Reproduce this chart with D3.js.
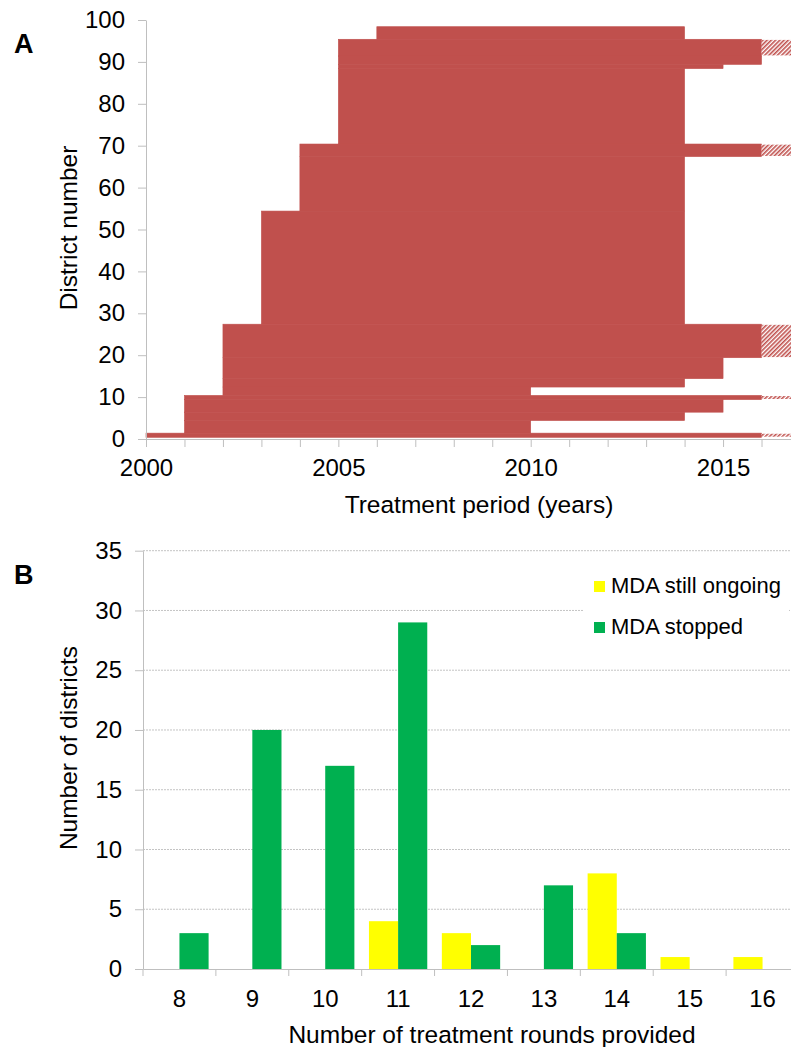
<!DOCTYPE html>
<html>
<head>
<meta charset="utf-8">
<script src="https://cdn.jsdelivr.net/npm/d3@7"></script>
<style>
  body { margin: 0; background: #fff; }
  svg { display: block; font-family: "Liberation Sans", Arial, sans-serif; }
</style>
</head>
<body>
<svg id="chart" width="791" height="1047"></svg>
<script>
// panel A: districts grouped by identical treatment period
var group_first   = [1, 2, 5, 7, 10, 11, 13, 15, 20, 28, 55, 68, 71, 89, 90, 92, 96];
var group_last    = [1, 4, 6, 9, 10, 12, 14, 19, 27, 54, 67, 70, 88, 89, 91, 95, 98];
var start_year    = [2000, 2001, 2001, 2001, 2001, 2002, 2002, 2002, 2002, 2003, 2004, 2004, 2005, 2005, 2005, 2005, 2006];
var end_year      = [2016, 2010, 2014, 2015, 2016, 2010, 2014, 2015, 2016, 2014, 2014, 2016, 2014, 2015, 2016, 2016, 2014];
var still_ongoing = [true, false, false, false, true, false, false, false, true, false, false, true, false, false, false, true, false];

var year_ticks = [2000, 2005, 2010, 2015];
var district_ticks = [0, 10, 20, 30, 40, 50, 60, 70, 80, 90, 100];

// panel B: number of districts by treatment rounds
var rounds = ["8", "9", "10", "11", "12", "13", "14", "15", "16"];
var mda_ongoing = [0, 0, 0, 4, 3, 0, 8, 1, 1];
var mda_stopped = [3, 20, 17, 29, 2, 7, 3, 0, 0];
var count_ticks = [0, 5, 10, 15, 20, 25, 30, 35];
var legend_labels = ["MDA still ongoing", "MDA stopped"];

var colors = {
  "red": "#c0504d",
  "yellow": "#ffff00",
  "green": "#00b050",
  "axis": "#bfbfbf",
  "grid": "#c4c4c4"
};

var svg = d3.select("#chart");

// hatch for districts where MDA is still ongoing
var pattern = svg.append("defs").append("pattern")
  .attr("id", "hatch")
  .attr("patternUnits", "userSpaceOnUse")
  .attr("width", 3)
  .attr("height", 3)
  .attr("patternTransform", "rotate(45)");
pattern.append("rect").attr("width", 3).attr("height", 3).attr("fill", "#fff");
pattern.append("line")
  .attr("x1", 0.8).attr("y1", 0).attr("x2", 0.8).attr("y2", 3)
  .attr("stroke", colors.red).attr("stroke-width", 1.6);

function style_axis(g, size) {
  g.select(".domain").attr("stroke", colors.axis);
  g.selectAll(".tick line").attr("stroke", colors.axis);
  g.selectAll(".tick text").attr("fill", "#000").attr("font-size", size + "px")
    .attr("font-family", "'Liberation Sans', Arial, sans-serif");
}

// ---------------- panel A ----------------
var xA = d3.scaleLinear().domain([2000, 2017]).range([146, 800]);
var yA = d3.scaleLinear().domain([0, 100]).range([439, 20]);

var groups = group_first.map(function(f, i) {
  return { first: f, last: group_last[i], start: start_year[i], end: end_year[i], ongoing: still_ongoing[i] };
});

var panelA = svg.append("g");

panelA.selectAll("rect.period")
  .data(groups)
  .join("rect")
  .attr("class", "period")
  .attr("x", function(d) { return xA(d.start); })
  .attr("width", function(d) { return xA(d.end) - xA(d.start); })
  .attr("y", function(d) { return yA(d.last + 0.4); })
  .attr("height", function(d) { return yA(d.first - 0.6) - yA(d.last + 0.4); })
  .attr("fill", colors.red)
  .attr("stroke", colors.red)
  .attr("stroke-width", 0.6);

panelA.selectAll("rect.ongoing")
  .data(groups.filter(function(d) { return d.ongoing; }))
  .join("rect")
  .attr("class", "ongoing")
  .attr("x", function(d) { return xA(d.end); })
  .attr("width", function(d) { return xA(2017) - xA(d.end); })
  .attr("y", function(d) { return yA(d.last + 0.25); })
  .attr("height", function(d) { return yA(d.first - 0.45) - yA(d.last + 0.25); })
  .attr("fill", "url(#hatch)");

panelA.append("g")
  .attr("transform", "translate(146,0)")
  .call(d3.axisLeft(yA).tickValues(district_ticks).tickSize(8).tickSizeOuter(0).tickPadding(13))
  .call(style_axis, 24);

panelA.append("g")
  .attr("transform", "translate(0,439)")
  .call(d3.axisBottom(xA).tickValues(d3.range(2000, 2018)).tickSize(8).tickSizeOuter(0).tickPadding(12)
    .tickFormat(function(d) { return year_ticks.includes(d) ? d : ""; }))
  .call(style_axis, 24);

panelA.append("text")
  .attr("x", 14).attr("y", 53)
  .attr("font-size", "27px").attr("font-weight", "bold")
  .text("A");

panelA.append("text")
  .attr("transform", "translate(77,228) rotate(-90)")
  .attr("text-anchor", "middle")
  .attr("font-size", "24.5px")
  .text("District number");

panelA.append("text")
  .attr("x", 479).attr("y", 513)
  .attr("text-anchor", "middle")
  .attr("font-size", "24.5px")
  .text("Treatment period (years)");

// ---------------- panel B ----------------
var xB = d3.scaleBand().domain(rounds).range([143, 799]).padding(0);
var yB = d3.scaleLinear().domain([0, 35]).range([969, 550.7]);
var bw = xB.bandwidth();

var panelB = svg.append("g");

// dotted gridlines
panelB.selectAll("line.grid")
  .data(count_ticks.filter(function(d) { return d > 0; }))
  .join("line")
  .attr("class", "grid")
  .attr("x1", 143).attr("x2", 791)
  .attr("y1", function(d) { return yB(d); })
  .attr("y2", function(d) { return yB(d); })
  .attr("stroke", colors.grid)
  .attr("stroke-width", 1)
  .attr("stroke-dasharray", "2,1");

panelB.selectAll("rect.ongoing")
  .data(rounds)
  .join("rect")
  .attr("class", "ongoing")
  .attr("x", function(d) { return xB(d) + 0.1 * bw; })
  .attr("width", 0.4 * bw)
  .attr("y", function(d, i) { return yB(mda_ongoing[i]); })
  .attr("height", function(d, i) { return yB(0) - yB(mda_ongoing[i]); })
  .attr("fill", colors.yellow);

panelB.selectAll("rect.stopped")
  .data(rounds)
  .join("rect")
  .attr("class", "stopped")
  .attr("x", function(d) { return xB(d) + 0.5 * bw; })
  .attr("width", 0.4 * bw)
  .attr("y", function(d, i) { return yB(mda_stopped[i]); })
  .attr("height", function(d, i) { return yB(0) - yB(mda_stopped[i]); })
  .attr("fill", colors.green);

panelB.append("g")
  .attr("transform", "translate(143,0)")
  .call(d3.axisLeft(yB).tickValues(count_ticks).tickSize(8).tickSizeOuter(0).tickPadding(13))
  .call(style_axis, 24);

var xAxisB = panelB.append("g")
  .attr("transform", "translate(0,969)")
  .call(d3.axisBottom(xB).tickSize(0).tickSizeOuter(0).tickPadding(21))
  .call(style_axis, 24);

// tick marks sit between categories
xAxisB.selectAll("line.sep")
  .data(rounds)
  .join("line")
  .attr("class", "sep")
  .attr("x1", function(d) { return xB(d); })
  .attr("x2", function(d) { return xB(d); })
  .attr("y1", 0).attr("y2", 7)
  .attr("stroke", colors.axis);

// legend
var legend = panelB.append("g");
legend.append("rect")
  .attr("x", 583).attr("y", 562).attr("width", 206).attr("height", 84)
  .attr("fill", "#fff");
var legend_rows = legend.selectAll("g.item")
  .data(legend_labels)
  .join("g")
  .attr("class", "item")
  .attr("transform", function(d, i) { return "translate(594," + (581 + i * 41) + ")"; });
legend_rows.append("rect")
  .attr("width", 11).attr("height", 11)
  .attr("fill", function(d, i) { return i == 0 ? colors.yellow : colors.green; });
legend_rows.append("text")
  .attr("x", 17).attr("y", 11.5)
  .attr("font-size", "22px")
  .text(function(d) { return d; });

panelB.append("text")
  .attr("x", 14).attr("y", 584)
  .attr("font-size", "27px").attr("font-weight", "bold")
  .text("B");

panelB.append("text")
  .attr("transform", "translate(77,748) rotate(-90)")
  .attr("text-anchor", "middle")
  .attr("font-size", "24.5px")
  .text("Number of districts");

panelB.append("text")
  .attr("x", 492).attr("y", 1043)
  .attr("text-anchor", "middle")
  .attr("font-size", "24.5px")
  .text("Number of treatment rounds provided");
</script>
</body>
</html>
